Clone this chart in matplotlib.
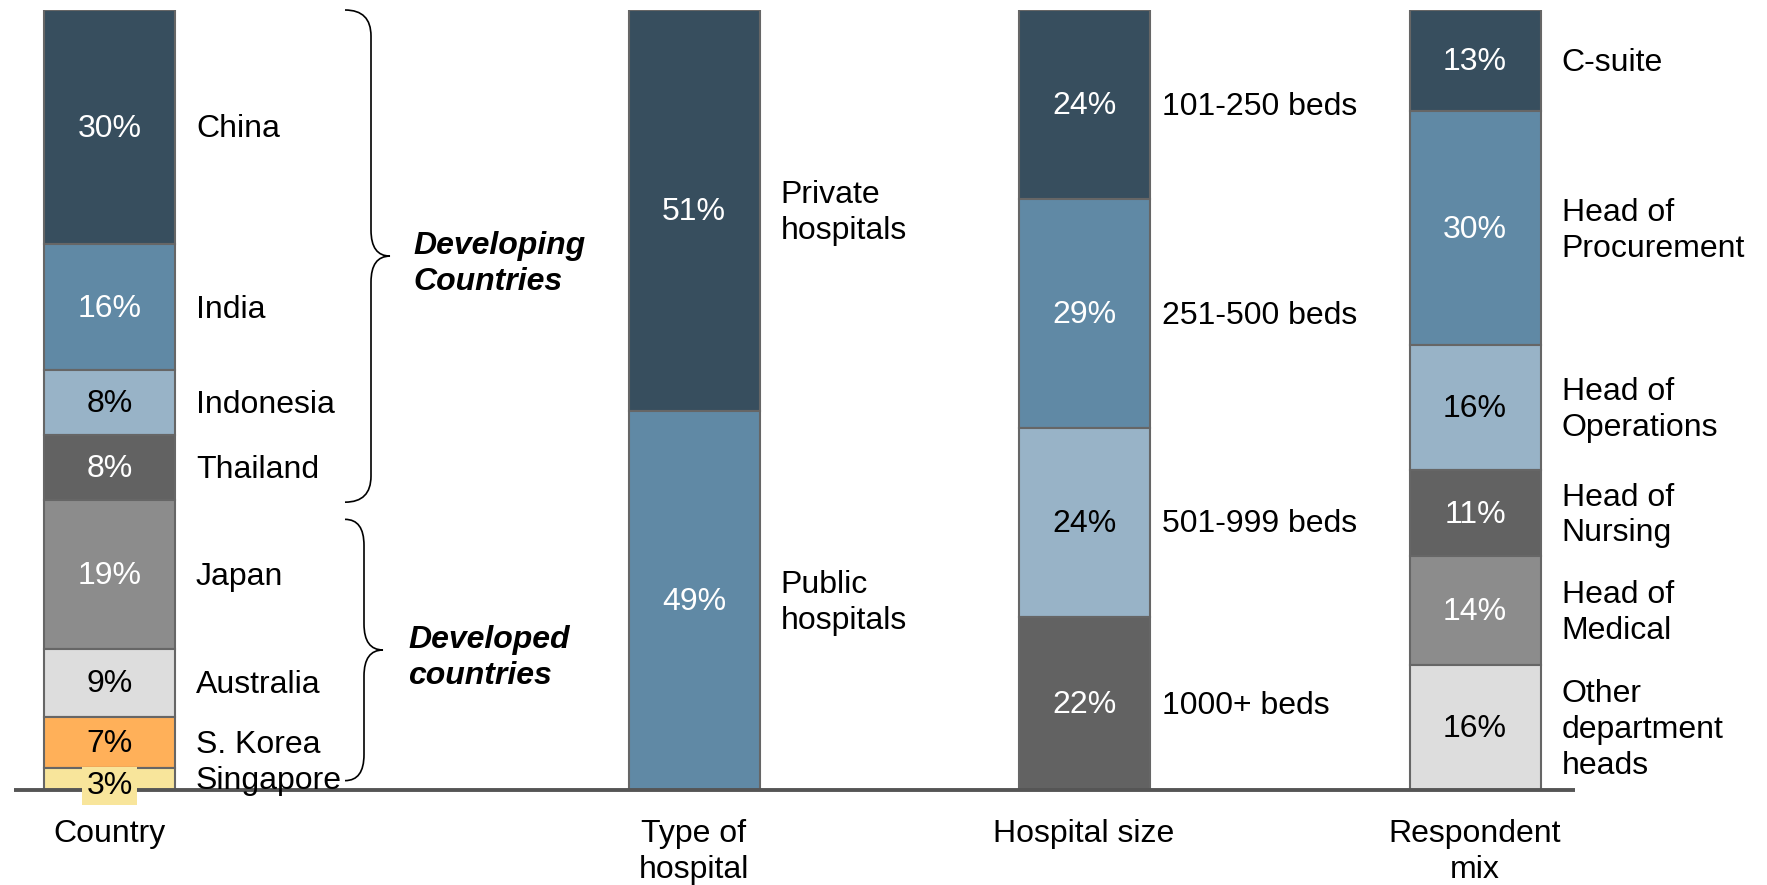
import matplotlib
matplotlib.use("Agg")
import matplotlib.pyplot as plt
from matplotlib.path import Path
from matplotlib.patches import PathPatch

plt.rcParams['font.family'] = ['Liberation Sans', 'DejaVu Sans']

# ---- Data (top segment first), shares ----
country_names = ["China", "India", "Indonesia", "Thailand",
                 "Japan", "Australia", "S. Korea", "Singapore"]
country_pct = [30.0, 16.2, 8.3, 8.3, 19.1, 8.7, 6.6, 2.8]

type_names = ["Private\nhospitals", "Public\nhospitals"]
type_pct = [51.4, 48.6]

size_names = ["101-250 beds", "251-500 beds", "501-999 beds", "1000+ beds"]
size_pct = [24, 29, 24, 22]

resp_names = ["C-suite", "Head of\nProcurement", "Head of\nOperations",
              "Head of\nNursing", "Head of\nMedical", "Other\ndepartment\nheads"]
resp_pct = [13, 30, 16, 11, 14, 16]

column_titles = ["Country", "Type of\nhospital", "Hospital size", "Respondent\nmix"]

group_names = ["Developing\nCountries", "Developed\ncountries"]
group_counts = [4, 4]

# ---- Styles / layout ----
palette = ["#374E5E", "#6089A5", "#98B3C7", "#626262",
           "#8C8C8C", "#DDDDDD", "#FFB059", "#F8E59B"]
dark = {"#374E5E", "#6089A5", "#626262", "#8C8C8C"}
EDGE = "#666666"
FS = 23
LS = 1.25
W, H = 1767, 885
BASE_PX, TOP_PX = 790, 10
PX = (BASE_PX - TOP_PX) / 100.0   # pixels per percent
BAR_W = 131
centers = [109.5, 694, 1084, 1475]
label_gaps = [21, 21, 12, 21]


def draw_column(ax, xc, names, values, gap):
    total = float(sum(values))
    top = 100.0
    for i, (name, v) in enumerate(zip(names, values)):
        h = v / total * 100
        bottom = top - h
        col = palette[i]
        ax.bar(xc, h, bottom=bottom, width=BAR_W, color=col,
               edgecolor=EDGE, linewidth=1.5, zorder=2)
        ymid = bottom + h / 2
        tc = "white" if col in dark else "black"
        box = None
        if h < 5:
            box = dict(facecolor=col, edgecolor="none", pad=3)
            ymid -= 0.7
        ax.text(xc, ymid - 0.2, f"{round(v)}%", color=tc, fontsize=FS,
                ha="center", va="center", zorder=5, bbox=box)
        ax.text(xc + BAR_W / 2 + gap, bottom + h / 2 - 0.3, name, fontsize=FS,
                ha="left", va="center", linespacing=LS, zorder=5)
        top = bottom


def brace(ax, x_end, x_spine, x_tip, ytop, ybot, r_px=26):
    r = r_px / PX
    ymid = (ytop + ybot) / 2
    verts = [(x_end, ytop), (x_spine, ytop), (x_spine, ytop - r),
             (x_spine, ymid + r),
             (x_spine, ymid), (x_tip, ymid),
             (x_spine, ymid), (x_spine, ymid - r),
             (x_spine, ybot + r),
             (x_spine, ybot), (x_end, ybot)]
    codes = [Path.MOVETO, Path.CURVE3, Path.CURVE3,
             Path.LINETO,
             Path.CURVE3, Path.CURVE3,
             Path.CURVE3, Path.CURVE3,
             Path.LINETO,
             Path.CURVE3, Path.CURVE3]
    ax.add_patch(PathPatch(Path(verts, codes), facecolor="none",
                           edgecolor="black", lw=1.2, clip_on=False))
    return ymid


fig = plt.figure(figsize=(W / 100, H / 100), dpi=100)
ax = fig.add_axes([0, (H - BASE_PX) / H, 1, (BASE_PX - TOP_PX) / H])
ax.set_xlim(0, W)
ax.set_ylim(0, 100)
ax.axis("off")

columns = [(country_names, country_pct), (type_names, type_pct),
           (size_names, size_pct), (resp_names, resp_pct)]
for xc, (names, vals), title, gap in zip(centers, columns, column_titles, label_gaps):
    draw_column(ax, xc, names, vals, gap)
    ax.text(xc, -3.7, title, fontsize=FS, ha="center", va="top",
            linespacing=LS, clip_on=False)

# baseline
ax.plot([14, 1575], [0, 0], color="#555555", lw=2.8, clip_on=False,
        solid_capstyle="butt", zorder=3)

# group braces for the country column
split = 100 - sum(country_pct[:group_counts[0]])
brace_specs = [
    (345, 371, 390, 100, split - 0.3, 413),
    (345, 364, 383, split - 2.5, 1.2, 408),
]
for (xe, xs, xt, yt, yb, xl), gname in zip(brace_specs, group_names):
    ym = brace(ax, xe, xs, xt, yt, yb)
    ax.text(xl, ym - 1.0, gname, fontsize=FS, fontweight="bold",
            fontstyle="italic", ha="left", va="center", linespacing=LS)

fig.savefig("out.png", dpi=100)
